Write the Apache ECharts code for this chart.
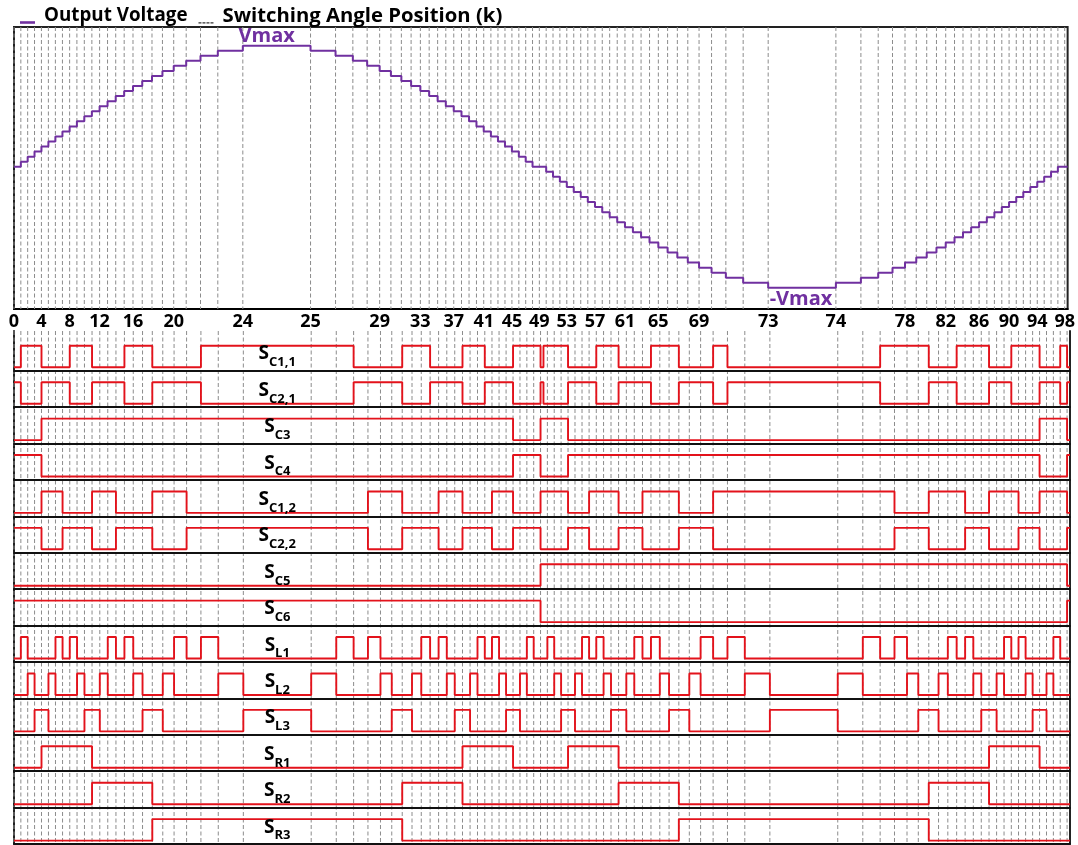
<!DOCTYPE html>
<html><head><meta charset="utf-8">
<script src="https://cdn.jsdelivr.net/npm/echarts@6/dist/echarts.min.js"></script>
<style>html,body{margin:0;padding:0;background:#fff;}#c{width:1078px;height:845px;}</style>
</head><body><div id="c"></div>
<script>
// switching angle positions k = 0..98 (degrees)
const angles = [0, 2.34, 4.68, 7.03, 9.40, 11.78, 14.18, 16.60, 19.06, 21.55, 24.09, 26.68, 29.33, 32.05, 34.85, 37.75, 40.77, 43.94, 47.28, 50.86, 54.72, 59.00, 63.90, 69.83, 78.40,
  101.60, 110.17, 116.10, 121.00, 125.28, 129.14, 132.72, 136.06, 139.23, 142.25, 145.15, 147.95, 150.67, 153.32, 155.91, 158.45, 160.94, 163.40, 165.82, 168.22, 170.60, 172.97, 175.32, 177.66,
  180.00,
  182.34, 184.68, 187.03, 189.40, 191.78, 194.18, 196.60, 199.06, 201.55, 204.09, 206.68, 209.33, 212.05, 214.85, 217.75, 220.77, 223.94, 227.28, 230.86, 234.72, 239.00, 243.90, 249.83, 258.40,
  281.60, 290.17, 296.10, 301.00, 305.28, 309.14, 312.72, 316.06, 319.23, 322.25, 325.15, 327.95, 330.67, 333.32, 335.91, 338.45, 340.94, 343.40, 345.82, 348.22, 350.60, 352.97, 355.32, 357.66, 360.00];
// output voltage level in each interval starting at angle k
const levels = [0,1,2,3,4,5,6,7,8,9,10,11,12,13,14,15,16,17,18,19,20,21,22,23,24,
  23,22,21,20,19,18,17,16,15,14,13,12,11,10,9,8,7,6,5,4,3,2,1,0,
  0,-1,-2,-3,-4,-5,-6,-7,-8,-9,-10,-11,-12,-13,-14,-15,-16,-17,-18,-19,-20,-21,-22,-23,-24,
  -23,-22,-21,-20,-19,-18,-17,-16,-15,-14,-13,-12,-11,-10,-9,-8,-7,-6,-5,-4,-3,-2,-1,0,
  0];
const tickK = [0,4,8,12,16,20,24,25,29,33,37,41,45,49,53,57,61,65,69,73,74,78,82,86,90,94,98];

// switching signals: initial state and the k positions where the state toggles
const sigNames = ['C1,1','C2,1','C3','C4','C1,2','C2,2','C5','C6','L1','L2','L3','R1','R2','R3'];
const sigStart = [0,1,0,1,0,1,0,1,0,0,0,0,0,0];
const edgesC11 = [1,4,8,11,15,18,22,27,31,34,38,41,45,53,57,60,64,67,70,71,76,80,83,87,90,94,97,98];
const edgesC21 = [1,4,8,11,15,18,22,27,31,34,38,41,45,53,57,60,64,67,70,71,76,80,83,87,90,94,97,98];
const edgesC3 = [4,45,49,53,94,98];
const edgesC4 = [4,45,49,53,94,98];
const edgesC12 = [4,7,11,14,18,21,28,31,35,38,42,45,49,53,56,60,63,67,70,77,80,84,87,91,94,98];
const edgesC22 = [4,7,11,14,18,21,28,31,35,38,42,45,49,53,56,60,63,67,70,77,80,84,87,91,94,98];
const edgesC5 = [49,98];
const edgesC6 = [49,98];
const edgesL1 = [1,2,6,7,8,9,13,14,15,16,20,21,22,23,26,27,28,29,33,34,35,36,40,41,42,43,47,48,50,51,55,56,57,58,62,63,64,65,69,70,71,72,75,76,77,78,82,83,84,85,89,90,91,92,96,97];
const edgesL2 = [2,3,5,6,9,10,12,13,16,17,19,20,23,24,25,26,29,30,32,33,36,37,39,40,43,44,46,47,51,52,54,55,58,59,61,62,65,66,68,69,72,73,74,75,78,79,81,82,85,86,88,89,92,93,95,96];
const edgesL3 = [3,5,10,12,17,19,24,25,30,32,37,39,44,46,52,54,59,61,66,68,73,74,79,81,86,88,93,95];
const edgesR1 = [4,11,38,45,53,60,87,94];
const edgesR2 = [11,18,31,38,60,67,80,87];
const edgesR3 = [18,31,67,80];
const sigEdges = [edgesC11,edgesC21,edgesC3,edgesC4,edgesC12,edgesC22,edgesC5,edgesC6,edgesL1,edgesL2,edgesL3,edgesR1,edgesR2,edgesR3];
// short glitch (degrees) at the zero crossing seen on S_C1,1 and S_C2,1
const notchC11 = [180.0, 181.0];
const notchC21 = [180.0, 181.0];
const sigNotch = [notchC11, notchC21, null, null, null, null, null, null, null, null, null, null, null, null];

const X_MAX = 361;
const LEFT = 14, WIDTH = 1056;
const FONT = 'Open Sans';
const PURPLE = '#7030a0', RED = '#e3121b', DASH = '#8c8c8c';

function stepData(vals, notch){
  const d = [];
  angles.forEach((a,i)=>{
    d.push([a, vals[i]]);
    if (notch && notch[0] >= a && (i === angles.length-1 || notch[0] < angles[i+1])){
      d.push([notch[0], 1 - vals[i]]);
      d.push([notch[1], vals[i]]);
    }
  });
  d.push([X_MAX, vals[vals.length-1]]);
  return d;
}
function states(start, edges){
  const out = [];
  for (let i=0;i<angles.length;i++){
    let n = 0; edges.forEach(e=>{ if (e<=i) n++; });
    out.push((start + n) % 2);
  }
  return out;
}
function guideSeries(xi, yi, name){
  return {type:'custom', name:name, xAxisIndex:xi, yAxisIndex:yi, silent:true, z:1, clip:false,
    data: angles.map(a=>[a,0]), encode:{x:0,y:1},
    renderItem:(params, api)=>{
      const x = api.coord([api.value(0), 0])[0];
      const cs = params.coordSys;
      return {type:'line', shape:{x1:x, y1:cs.y, x2:x, y2:cs.y+cs.height},
        style:{stroke:DASH, lineWidth:1, lineDash:[4,2.5]}};
    }};
}

const grids=[], xAxes=[], yAxes=[], series=[];
// top panel
grids.push({left:LEFT, top:27, width:WIDTH, height:282, show:true, borderColor:'#222', borderWidth:2});
xAxes.push({gridIndex:0, type:'value', min:0, max:X_MAX,
  axisLine:{show:true, onZero:false, lineStyle:{color:'#000', width:2}}, axisTick:{show:false}, splitLine:{show:false},
  axisLabel:{show:true, customValues: tickK.map(k=>angles[k]), margin:4, color:'#000', fontFamily:FONT, fontWeight:'bold', fontSize:18,
    formatter:(v)=>{ const k = tickK.find(k=>Math.abs(angles[k]-v)<1e-6); return k===undefined?'':String(k); }}});
yAxes.push({gridIndex:0, type:'value', min:-28.2, max:27.7, show:false});
const vmax = Math.max(...levels), vmin = Math.min(...levels);
series.push(guideSeries(0,0,'Switching Angle Position (k)'));
series.push({type:'line', name:'Output Voltage', xAxisIndex:0, yAxisIndex:0, step:'end', symbol:'none', z:3,
  data: stepData(levels, null), lineStyle:{color:PURPLE, width:2}, itemStyle:{color:PURPLE},
  markPoint:{symbol:'circle', symbolSize:0, silent:true,
    label:{show:true, position:'inside', color:PURPLE, fontFamily:FONT, fontWeight:'bold', fontSize:20},
    data:[{coord:[90, vmax], label:{formatter:'Vmax', offset:[-10,-9]}},
          {coord:[270, vmin], label:{formatter:'-Vmax', offset:[-1,11]}}]}});

// signal rows
const ROW0 = 334.3, ROWH = 36.41;
sigNames.forEach((nm, r)=>{
  const gi = r+1;
  grids.push({left:LEFT, top:ROW0 + r*ROWH, width:WIDTH, height:ROWH});
  xAxes.push({gridIndex:gi, type:'value', min:0, max:X_MAX, z:4,
    axisLine:{show:true, onZero:false, lineStyle:{color:'#111', width:2}}, axisTick:{show:false}, axisLabel:{show:false}, splitLine:{show:false}});
  yAxes.push({gridIndex:gi, type:'value', min:-0.16, max:1.535, show:false});
  series.push({type:'line', name:'S'+nm, xAxisIndex:gi, yAxisIndex:gi, step:'end', symbol:'none', z:3,
    data: stepData(states(sigStart[r], sigEdges[r]), sigNotch[r]), lineStyle:{color:RED, width:1.9}, itemStyle:{color:RED},
    markPoint:{symbol:'circle', symbolSize:0, silent:true,
      label:{show:true, position:'inside', formatter:'{s|S}{b|'+nm+'}',
        rich:{s:{fontFamily:FONT, fontWeight:'bold', fontSize:19, color:'#000', lineHeight:30},
              b:{fontFamily:FONT, fontWeight:'bold', fontSize:13, color:'#000', lineHeight:13, padding:[17,0,0,0]}}},
      data:[{coord:[90, 0.62]}]}});
});
// overlay for the lower panel: guides and side frame
const OG = sigNames.length + 1;
grids.push({left:LEFT, top:331, width:WIDTH, height:844-331});
xAxes.push({gridIndex:OG, type:'value', min:0, max:X_MAX, show:false});
yAxes.push({gridIndex:OG, type:'value', min:0, max:1, position:'left', axisLine:{show:true, lineStyle:{color:'#222', width:2}}, axisTick:{show:false}, axisLabel:{show:false}, splitLine:{show:false}});
yAxes.push({gridIndex:OG, type:'value', min:0, max:1, position:'right', axisLine:{show:true, lineStyle:{color:'#222', width:2}}, axisTick:{show:false}, axisLabel:{show:false}, splitLine:{show:false}});
series.push(guideSeries(OG, yAxes.length-2, 'guides2'));

const legendText = (size)=>({fontFamily:FONT, fontWeight:'bold', fontSize:size, color:'#000', padding:[0,0,0,4]});
const chart = echarts.init(document.getElementById('c'));
chart.setOption({
  animation:false,
  backgroundColor:'#fff',
  legend:{left:15, top:1, itemGap:11, itemWidth:15, itemHeight:16, selectedMode:false,
    textStyle:legendText(19),
    data:[{name:'Output Voltage', icon:'path://M0,0M0,13h15v2.6h-15z', textStyle:legendText(18.8)},
          {name:'Switching Angle Position (k)', icon:'path://M0,0M0,13.6h3v1.3h-3zM4,13.6h3v1.3h-3zM8,13.6h3v1.3h-3zM12,13.6h3v1.3h-3z', itemStyle:{color:'#333'}, textStyle:legendText(20.3)}]},
  grid:grids, xAxis:xAxes, yAxis:yAxes, series:series
});
</script></body></html>
